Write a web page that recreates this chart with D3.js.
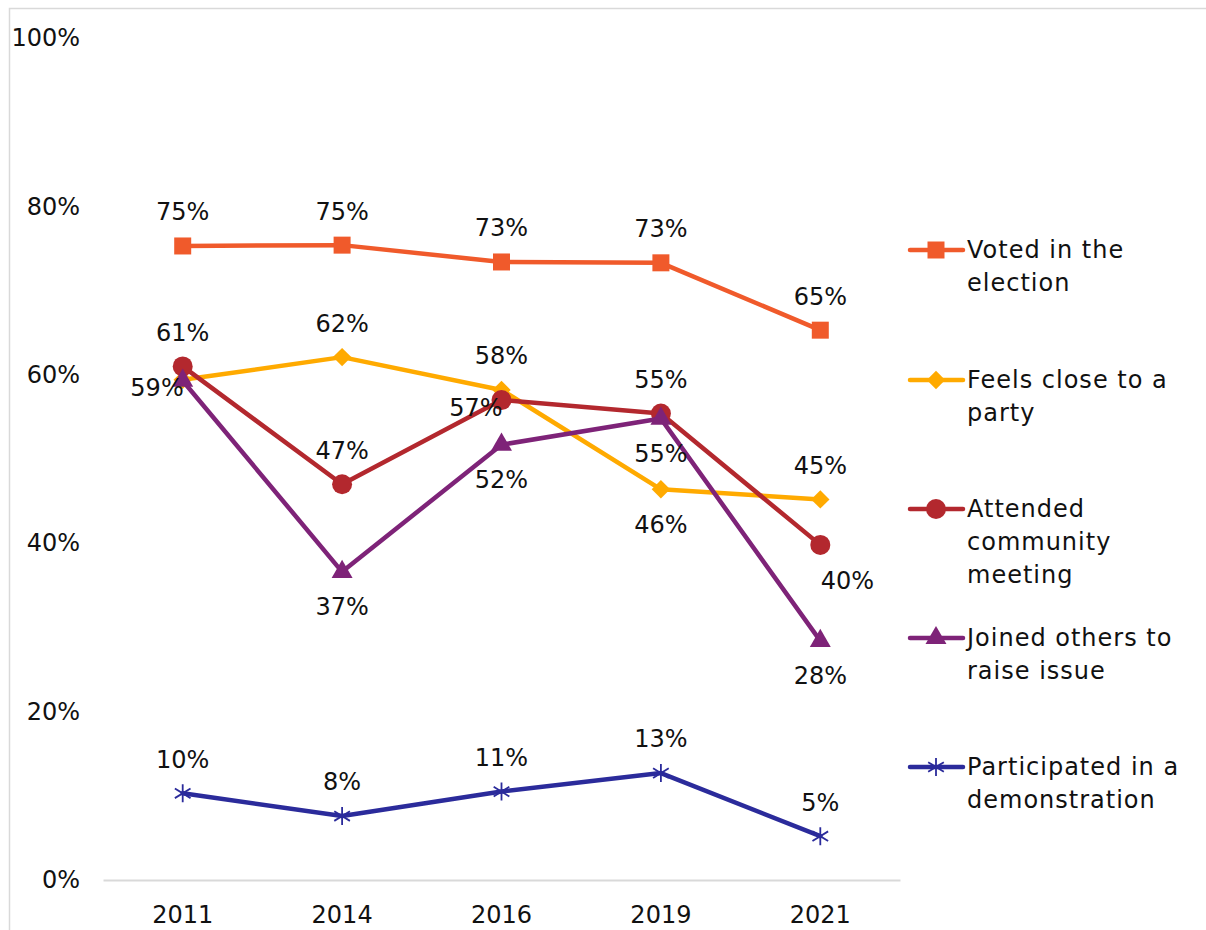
<!DOCTYPE html>
<html>
<head>
<meta charset="utf-8">
<script src="https://cdn.jsdelivr.net/npm/d3@7"></script>
<style>
  html, body { margin: 0; padding: 0; background: #fff; }
  svg { display: block; }
  text { font-family: "DejaVu Sans", "Noto Sans", sans-serif; fill: #111; }
</style>
</head>
<body>
<svg id="chart" width="1206" height="930"></svg>
<script>
// Survey years on the category axis
const years = ["2011", "2014", "2016", "2019", "2021"];

// Share of respondents (percent) for each form of participation
const voted        = [75.3, 75.4, 73.4, 73.3, 65.3];
const closeToParty = [59.4, 62.1, 58.2, 46.4, 45.2];
const attended     = [61.0, 47.0, 57.0, 55.4, 39.8];
const joinedOthers = [59.3, 36.6, 51.7, 54.8, 28.4];
const demonstrated = [10.3, 7.6, 10.5, 12.7, 5.2];

// Value axis ticks
const yTicks = [0, 20, 40, 60, 80, 100];

const seriesNames = [
  ["Voted in the", "election"],
  ["Feels close to a", "party"],
  ["Attended", "community", "meeting"],
  ["Joined others to", "raise issue"],
  ["Participated in a", "demonstration"]
];
const seriesValues = [voted, closeToParty, attended, joinedOthers, demonstrated];

// Styling per series
const colors  = ["#F05A2B", "#FFAA00", "#B3282E", "#7E2378", "#2B2B9B"];
const markers = ["square", "diamond", "circle", "triangle", "asterisk"];
// Where each point's value label sits
const labelPos = [
  ["above", "above", "above", "above", "above"],
  ["left", "above", "above", "below", "above"],
  ["above", "above", "left", "above", "belowRight"],
  ["none", "below", "below", "below", "below"],
  ["above", "above", "above", "above", "above"]
];

const svg = d3.select("#chart");
const plot = { left: 103, right: 900, top: 38, bottom: 880 };

// Outer chart border
svg.append("rect")
  .attr("x", 9.5).attr("y", 8.5)
  .attr("width", 1250).attr("height", 1000)
  .attr("fill", "none").attr("stroke", "#d9d9d9").attr("stroke-width", 1.5);

const x = d3.scaleBand().domain(years).range([plot.left, plot.right]).padding(0);
const cx = d => x(d) + x.bandwidth() / 2;
const y = d3.scaleLinear().domain([0, 100]).range([plot.bottom, plot.top]);

const FS = 24;

// Value axis labels (no line, no ticks)
const yAxis = svg.append("g")
  .attr("transform", `translate(${plot.left},0)`)
  .call(d3.axisLeft(y).tickValues(yTicks).tickSize(0).tickPadding(23)
    .tickFormat(d => d + "%"));
yAxis.select(".domain").remove();
yAxis.selectAll("text").attr("font-size", FS).attr("font-family", null).attr("fill", "#111");

// Category axis
const xAxis = svg.append("g")
  .attr("transform", `translate(0,${plot.bottom})`)
  .call(d3.axisBottom(x).tickSize(0).tickPadding(26));
xAxis.select(".domain").attr("stroke", "#d9d9d9").attr("stroke-width", 2);
xAxis.selectAll("text").attr("font-size", FS).attr("font-family", null).attr("fill", "#111");

// Asterisk marker: vertical stroke plus an X
const asteriskSymbol = {
  draw(ctx, size) {
    const r = Math.sqrt(size) / 2;
    const d = r * 0.87;
    ctx.moveTo(0, -r); ctx.lineTo(0, r);
    ctx.moveTo(-d, -d * 0.62); ctx.lineTo(d, d * 0.62);
    ctx.moveTo(-d, d * 0.62); ctx.lineTo(d, -d * 0.62);
  }
};

function markerPath(type) {
  switch (type) {
    case "square":   return d3.symbol(d3.symbolSquare, 17 * 17)();
    case "diamond":  return d3.symbol(d3.symbolSquare, 13 * 13)();
    case "circle":   return d3.symbol(d3.symbolCircle, Math.PI * 10 * 10)();
    case "triangle": return d3.symbol(d3.symbolTriangle, 190)();
    case "asterisk": return d3.symbol(asteriskSymbol, 18 * 18)();
  }
}

function drawMarker(g, type, color, px, py) {
  const p = g.append("path")
    .attr("d", markerPath(type))
    .attr("transform", `translate(${px},${py})` + (type === "diamond" ? " rotate(45)" : ""));
  if (type === "asterisk") {
    p.attr("fill", "none").attr("stroke", color).attr("stroke-width", 1.8);
  } else {
    p.attr("fill", color).attr("stroke", "none");
  }
}

const line = d3.line().x((d, i) => cx(years[i])).y(d => y(d));

const seriesG = svg.append("g");
seriesValues.forEach((vals, s) => {
  const g = seriesG.append("g");
  g.append("path")
    .attr("d", line(vals))
    .attr("fill", "none")
    .attr("stroke", colors[s])
    .attr("stroke-width", 4.5)
    .attr("stroke-linejoin", "round")
    .attr("stroke-linecap", "round");
  vals.forEach((v, i) => drawMarker(g, markers[s], colors[s], cx(years[i]), y(v)));
});

// Value labels
const labelG = svg.append("g").attr("font-size", FS);
seriesValues.forEach((vals, s) => {
  vals.forEach((v, i) => {
    const pos = labelPos[s][i];
    if (pos === "none") return;
    const px = cx(years[i]), py = y(v);
    let tx = px, ty = py, anchor = "middle";
    if (pos === "above") ty = py - 34;
    else if (pos === "below") ty = py + 35;
    else if (pos === "left") { tx = px + 1; ty = py + 8; anchor = "end"; }
    else if (pos === "belowRight") { tx = px + 27; ty = py + 36; }
    labelG.append("text")
      .attr("x", tx).attr("y", ty)
      .attr("dy", "0.35em")
      .attr("text-anchor", anchor)
      .text(Math.round(v) + "%");
  });
});

// Legend
const legendY = [250, 380, 509, 638, 767];
const legend = svg.append("g");
seriesNames.forEach((lines, s) => {
  const g = legend.append("g").attr("transform", `translate(0,${legendY[s]})`);
  g.append("line")
    .attr("x1", 910).attr("x2", 963).attr("y1", 0).attr("y2", 0)
    .attr("stroke", colors[s]).attr("stroke-width", 4.5).attr("stroke-linecap", "round");
  drawMarker(g, markers[s], colors[s], 936, 0);
  const t = g.append("text").attr("x", 967).attr("y", 0)
    .attr("font-size", FS).attr("letter-spacing", 1);
  lines.forEach((ln, k) => {
    t.append("tspan").attr("x", 967).attr("y", k * 33).attr("dy", "0.35em").text(ln);
  });
});
</script>
</body>
</html>
